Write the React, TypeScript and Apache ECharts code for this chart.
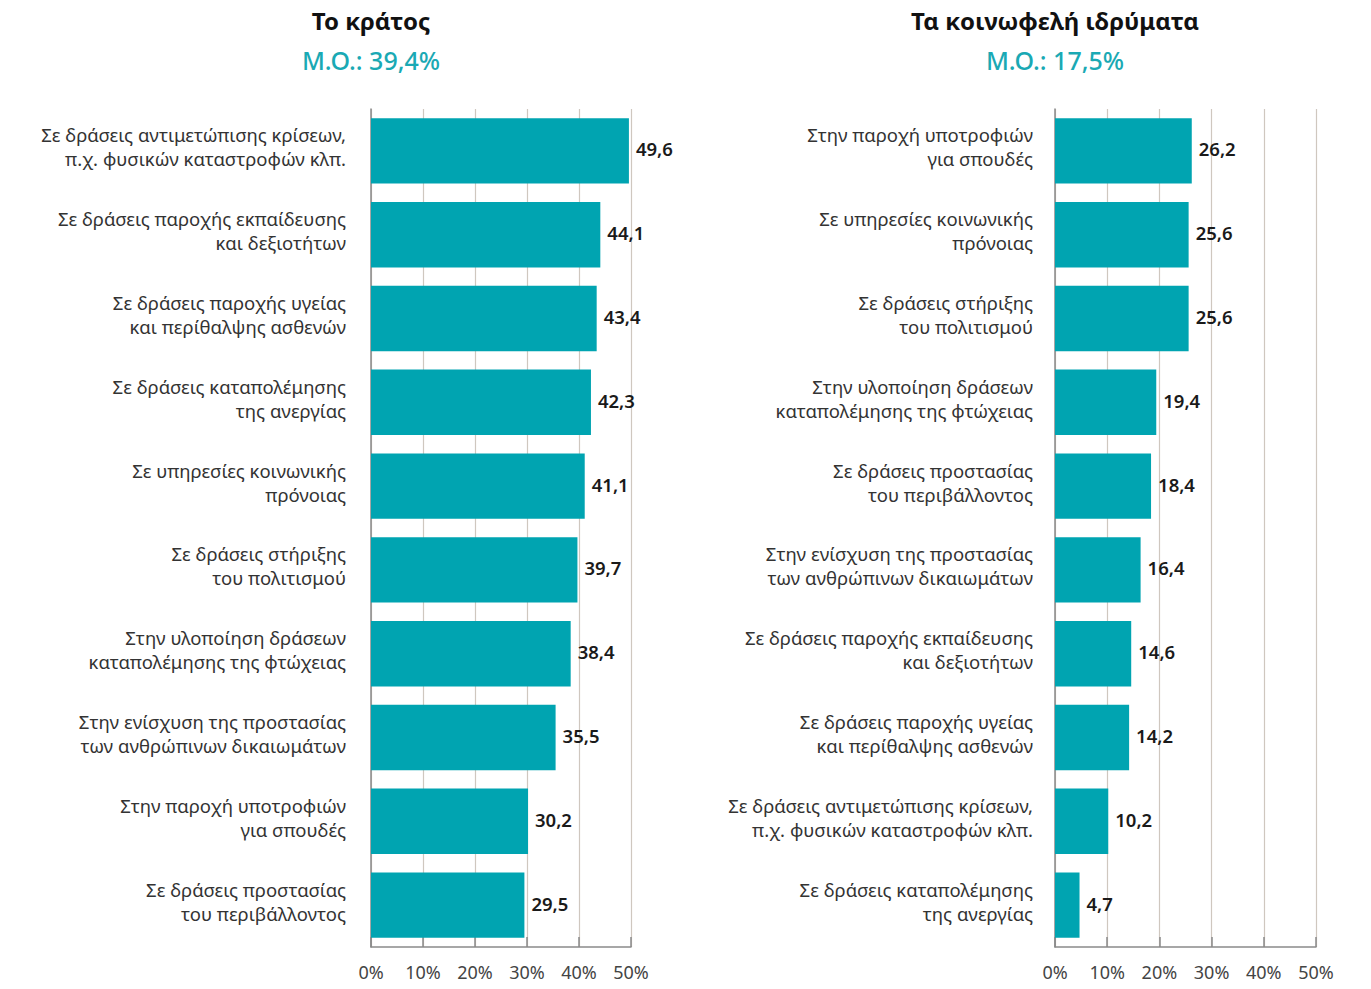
import React, { useEffect, useRef } from "react";
import * as echarts from "echarts";

const leftCategories = [
  "Σε δράσεις αντιμετώπισης κρίσεων,\nπ.χ. φυσικών καταστροφών κλπ.",
  "Σε δράσεις παροχής εκπαίδευσης\nκαι δεξιοτήτων",
  "Σε δράσεις παροχής υγείας\nκαι περίθαλψης ασθενών",
  "Σε δράσεις καταπολέμησης\nτης ανεργίας",
  "Σε υπηρεσίες κοινωνικής\nπρόνοιας",
  "Σε δράσεις στήριξης\nτου πολιτισμού",
  "Στην υλοποίηση δράσεων\nκαταπολέμησης της φτώχειας",
  "Στην ενίσχυση της προστασίας\nτων ανθρώπινων δικαιωμάτων",
  "Στην παροχή υποτροφιών\nγια σπουδές",
  "Σε δράσεις προστασίας\nτου περιβάλλοντος",
];
const leftValues = [49.6, 44.1, 43.4, 42.3, 41.1, 39.7, 38.4, 35.5, 30.2, 29.5];

const rightCategories = [
  "Στην παροχή υποτροφιών\nγια σπουδές",
  "Σε υπηρεσίες κοινωνικής\nπρόνοιας",
  "Σε δράσεις στήριξης\nτου πολιτισμού",
  "Στην υλοποίηση δράσεων\nκαταπολέμησης της φτώχειας",
  "Σε δράσεις προστασίας\nτου περιβάλλοντος",
  "Στην ενίσχυση της προστασίας\nτων ανθρώπινων δικαιωμάτων",
  "Σε δράσεις παροχής εκπαίδευσης\nκαι δεξιοτήτων",
  "Σε δράσεις παροχής υγείας\nκαι περίθαλψης ασθενών",
  "Σε δράσεις αντιμετώπισης κρίσεων,\nπ.χ. φυσικών καταστροφών κλπ.",
  "Σε δράσεις καταπολέμησης\nτης ανεργίας",
];
const rightValues = [26.2, 25.6, 25.6, 19.4, 18.4, 16.4, 14.6, 14.2, 10.2, 4.7];

const titles = ["Το κράτος", "Τα κοινωφελή ιδρύματα"];
const subtitles = ["Μ.Ο.: 39,4%", "Μ.Ο.: 17,5%"];

const FONT = "'Noto Sans', sans-serif";
const TEAL = "#00a4b1";

export default function App() {
  const ref = useRef<HTMLDivElement>(null);
  useEffect(() => {
    if (!ref.current) return;
    const chart = echarts.init(ref.current, undefined, { renderer: "svg" });
    const gridLeftX = [371, 1055];
    const labelMargins = [25, 22];
    const xAxisCommon = (gridIndex: number) => ({
      type: "value",
      gridIndex,
      min: 0,
      max: 50,
      interval: 10,
      axisLine: { show: true, lineStyle: { color: "#8a8a8a", width: 1.5 } },
      axisTick: { show: true, inside: true, length: 10, lineStyle: { color: "#8a8a8a", width: 1.5 } },
      splitLine: { show: true, lineStyle: { color: "#cfc7bf", width: 1.2 } },
      axisLabel: {
        formatter: (v: number) => v + "%",
        fontFamily: FONT,
        fontSize: 18,
        color: "#444",
        margin: 16,
      },
    });
    const yAxisCommon = (gridIndex: number, data: string[]) => ({
      type: "category",
      gridIndex,
      data,
      inverse: true,
      axisLine: { show: true, lineStyle: { color: "#8a8a8a", width: 1.5 } },
      axisTick: { show: false },
      axisLabel: {
        fontFamily: FONT,
        fontSize: 18.5,
        color: "#333",
        lineHeight: 24,
        margin: labelMargins[gridIndex],
        align: "right",
        formatter: (v: string) =>
          v
            .split("\n")
            .map((l) => "{t|" + l + "}")
            .join("\n") + "\n{s| }",
        rich: {
          t: { fontFamily: FONT, fontSize: 18.5, color: "#333", lineHeight: 24, align: "right" },
          s: { fontSize: 2, lineHeight: 8 },
        },
      },
    });
    const seriesCommon = (idx: number, data: number[]) => ({
      type: "bar",
      xAxisIndex: idx,
      yAxisIndex: idx,
      data,
      barCategoryGap: "22%",
      itemStyle: { color: TEAL },
      label: {
        show: true,
        position: "right",
        distance: 7,
        offset: [0, -2],
        formatter: (p: any) => String(p.value).replace(".", ","),
        fontFamily: FONT,
        fontSize: 18.5,
        fontWeight: 600,
        color: "#1a1a1a",
      },
    });
    const graphics: any[] = [];
    for (let i = 0; i < 2; i++) {
      graphics.push({
        type: "text",
        x: gridLeftX[i],
        y: 20,
        style: {
          text: titles[i],
          fontFamily: FONT,
          fontSize: 24,
          fontWeight: 700,
          fill: "#111",
          textAlign: "center",
          textVerticalAlign: "middle",
        },
      });
      graphics.push({
        type: "text",
        x: gridLeftX[i],
        y: 60,
        style: {
          text: subtitles[i],
          fontFamily: FONT,
          fontSize: 25,
          fontWeight: 500,
          fill: "#1aa9b4",
          textAlign: "center",
          textVerticalAlign: "middle",
        },
      });
    }
    chart.setOption({
      animation: false,
      backgroundColor: "#ffffff",
      grid: [
        { left: 371, width: 260, top: 109, height: 838 },
        { left: 1055, width: 261, top: 109, height: 838 },
      ],
      xAxis: [xAxisCommon(0), xAxisCommon(1)],
      yAxis: [yAxisCommon(0, leftCategories), yAxisCommon(1, rightCategories)],
      series: [seriesCommon(0, leftValues), seriesCommon(1, rightValues)],
      graphic: graphics,
    });
    return () => chart.dispose();
  }, []);
  return (
    <div
      ref={ref}
      style={{ position: "fixed", left: 0, top: 0, width: 1371, height: 989 }}
    />
  );
}
